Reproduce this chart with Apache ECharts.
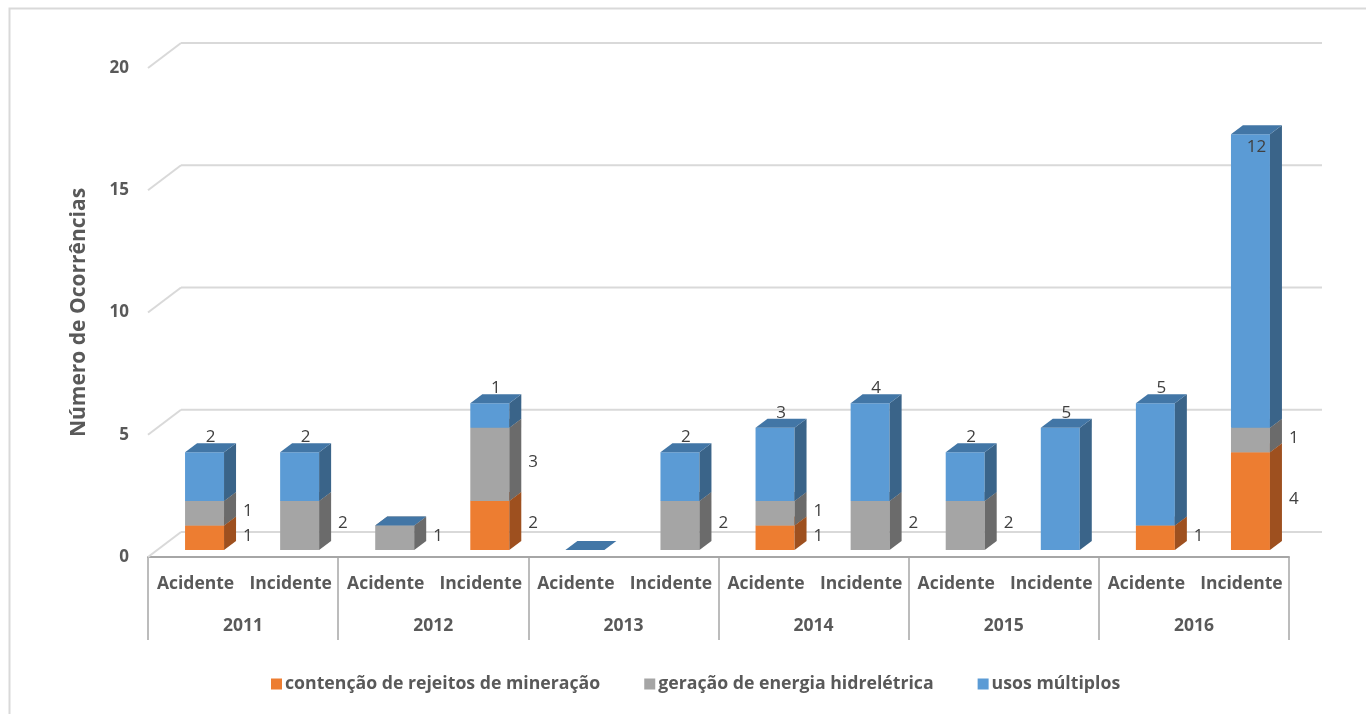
<!DOCTYPE html>
<html>
<head>
<meta charset="utf-8">
<script src="https://cdn.jsdelivr.net/npm/echarts@6/dist/echarts.min.js"></script>
<style>
html,body{margin:0;padding:0;background:#fff;}
#chart{width:1366px;height:714px;}
</style>
</head>
<body>
<div id="chart"></div>
<script>
// ---- data ----
var categories = ['Acidente','Incidente','Acidente','Incidente','Acidente','Incidente','Acidente','Incidente','Acidente','Incidente','Acidente','Incidente'];
var years = ['2011','2012','2013','2014','2015','2016'];
var seriesNames = ['contenção de rejeitos de mineração','geração de energia hidrelétrica','usos múltiplos'];
var contencao = [1, 0, 0, 2, 0, 0, 1, 0, 0, 0, 1, 4];
var geracao   = [1, 2, 1, 3, 0, 2, 1, 2, 2, 0, 0, 1];
var usos      = [2, 2, 0, 1, 0, 2, 3, 4, 2, 5, 5, 12];
var yTicks = [0, 5, 10, 15, 20];

var colors = [
  {front:'#ED7D31', side:'#9E501F', top:'#C8682A'},
  {front:'#A5A5A5', side:'#6B6B6B', top:'#8A8A8A'},
  {front:'#5B9BD5', side:'#3A6489', top:'#4276A6'}
];
var FONT = 'Open Sans';

var values = [contencao, geracao, usos];
function buildData(si){
  var out = [];
  for (var i=0;i<categories.length;i++){
    var base = 0;
    for (var k=0;k<si;k++) base += values[k][i];
    out.push([i, base, base + values[si][i], values[si][i]]);
  }
  return out;
}

// geometry (styling only)
var BAR_SHIFT = [9, -7];   // bar plane offset from the front plane
var DEPTH = [12, -9];      // bar depth
var WALL = [33, -25];      // back wall offset
var BAR_W = 0.41;

function makeBarRender(si){
  var last = si === values.length - 1;
  return function(params, api){
    var idx = api.value(0);
    var pb = api.coord([idx, api.value(1)]);
    var pt = api.coord([idx, api.value(2)]);
    var val = api.value(3);
    var band = api.size([1,0])[0];
    var w = band * BAR_W;
    var cx = pb[0] + BAR_SHIFT[0];
    var yb = pb[1] + BAR_SHIFT[1];
    var yt = pt[1] + BAR_SHIFT[1];
    var x1 = cx - w/2, x2 = cx + w/2;
    var dx = DEPTH[0], dy = DEPTH[1];
    var c = colors[si];
    var children = [];
    if (yb - yt > 0.01){
      children.push({type:'rect', shape:{x:x1, y:yt, width:w, height:yb-yt}, style:{fill:c.front}});
      children.push({type:'polygon', shape:{points:[[x2,yb],[x2+dx,yb+dy],[x2+dx,yt+dy],[x2,yt]]}, style:{fill:c.side}});
    }
    var showTop = last || (yb - yt > 0.01);
    if (showTop){
      children.push({type:'polygon', shape:{points:[[x1,yt],[x1+dx,yt+dy],[x2+dx,yt+dy],[x2,yt]]}, style:{fill:c.top}});
    }
    if (val > 0){
      var lx, ly, align;
      if (last){
        var limit = api.coord([0, 17.5])[1];
        lx = cx + dx/2; align = 'center';
        ly = (yt - 16 < limit) ? yt + 13 : yt - 15;
      } else {
        lx = x2 + dx + 7; align = 'left';
        ly = (yt + yb)/2 - 2;
      }
      children.push({type:'text', z2: 10, style:{text:String(val), x:lx, y:ly, align:align, verticalAlign:'middle',
        fill:'#404040', font:'17px "' + FONT + '"'}});
    }
    return {type:'group', children:children};
  };
}

function wallRender(params, api){
  var cs = params.coordSys;
  var v = api.value(1);
  var p = api.coord([0, v]);
  var y = p[1];
  var x0 = cs.x;
  return {type:'group', children:[
    {type:'line', shape:{x1:x0, y1:y, x2:x0+WALL[0], y2:y+WALL[1]}, style:{stroke:'#d9d9d9', lineWidth:2}},
    {type:'line', shape:{x1:x0+WALL[0], y1:y+WALL[1], x2:x0+cs.width+WALL[0], y2:y+WALL[1]}, style:{stroke:'#d9d9d9', lineWidth:2}}
  ]};
}

var series = [{
  type:'custom', name:'wall', silent:true, z:1,
  renderItem: wallRender,
  data: yTicks.map(function(t){ return [0, t]; }),
  encode:{x:0, y:1}
}];
for (var s=0;s<seriesNames.length;s++){
  series.push({
    type:'custom', name:seriesNames[s], z:5,
    itemStyle:{color:colors[s].front},
    renderItem: makeBarRender(s),
    data: buildData(s),
    encode:{x:0, y:[1,2]}
  });
}

var chart = echarts.init(document.getElementById('chart'), null, {renderer:'canvas'});
chart.setOption({
  animation:false,
  backgroundColor:'#fff',
  graphic:[{type:'rect', left:7, top:6, shape:{width:1400, height:800}, style:{fill:'none', stroke:'#d9d9d9', lineWidth:2}, z:0}],
  grid:{left:148, right:77, top:68, bottom:157},
  legend:{
    data: seriesNames,
    left:266, top:670, itemWidth:11, itemHeight:11, itemGap:44, icon:'rect',
    textStyle:{fontFamily:FONT, fontSize:17.7, fontWeight:'bold', color:'#595959', padding:[0,0,0,-2]}
  },
  xAxis:[{
    type:'category', data:categories, position:'bottom',
    axisLine:{show:true, lineStyle:{color:'#a6a6a6', width:2}},
    axisTick:{show:false},
    axisLabel:{interval:0, margin:18, fontFamily:FONT, fontSize:17.5, fontWeight:'bold', color:'#595959'}
  },{
    type:'category', data:years, position:'bottom',
    axisLine:{show:false},
    axisTick:{show:true, length:83, lineStyle:{color:'#a6a6a6', width:1.5}},
    axisLabel:{interval:0, margin:60, fontFamily:FONT, fontSize:17.5, fontWeight:'bold', color:'#595959'}
  }],
  yAxis:{
    type:'value', min:0, max:20, interval:5,
    name:'Número de Ocorrências', nameLocation:'middle', nameGap:58,
    nameTextStyle:{fontFamily:FONT, fontSize:21, fontWeight:'bold', color:'#595959'},
    axisLine:{show:false}, axisTick:{show:false}, splitLine:{show:false},
    axisLabel:{margin:19, fontFamily:FONT, fontSize:17, fontWeight:'bold', color:'#595959'}
  },
  series: series
});
</script>
</body>
</html>
